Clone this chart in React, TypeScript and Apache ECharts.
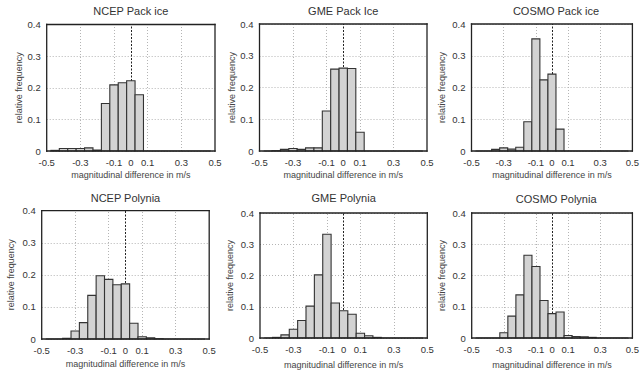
import React, { useEffect, useRef } from 'react';
import * as echarts from 'echarts';

// ---- data ----
const BIN_CENTERS = [-0.45, -0.4, -0.35, -0.3, -0.25, -0.2, -0.15, -0.1, -0.05, 0, 0.05, 0.1, 0.15, 0.2, 0.25, 0.3, 0.35, 0.4, 0.45];
const BIN_WIDTH = 0.05;

const NCEP_PACK = [0.002, 0.008, 0.008, 0.008, 0.01, 0.003, 0.15, 0.209, 0.216, 0.222, 0.178, 0, 0, 0, 0, 0, 0, 0, 0];
const GME_PACK = [0, 0.001, 0.005, 0.008, 0.005, 0.01, 0.01, 0.126, 0.258, 0.261, 0.26, 0.059, 0, 0, 0, 0, 0, 0, 0];
const COSMO_PACK = [0, 0, 0.005, 0.01, 0.006, 0.012, 0.092, 0.353, 0.224, 0.242, 0.069, 0, 0, 0, 0, 0, 0, 0, 0];
const NCEP_POLY = [0, 0, 0.002, 0.025, 0.051, 0.136, 0.197, 0.186, 0.169, 0.172, 0.049, 0.007, 0.004, 0.001, 0, 0, 0, 0, 0];
const GME_POLY = [0, 0.002, 0.01, 0.028, 0.056, 0.102, 0.202, 0.332, 0.112, 0.087, 0.076, 0.015, 0.007, 0.002, 0, 0, 0, 0, 0];
const COSMO_POLY = [0, 0, 0, 0.017, 0.07, 0.138, 0.265, 0.229, 0.12, 0.078, 0.083, 0.008, 0.005, 0.004, 0.002, 0, 0, 0, 0];

const SERIES_VALUES = [NCEP_PACK, GME_PACK, COSMO_PACK, NCEP_POLY, GME_POLY, COSMO_POLY];
const TITLES = ['NCEP Pack ice', 'GME Pack Ice', 'COSMO Pack ice', 'NCEP Polynia', 'GME Polynia', 'COSMO Polynia'];
const X_MIN = -0.5;
const X_MAX = 0.5;
const Y_MIN = 0;
const Y_MAX = 0.4;
const X_TICK_LABELS = [-0.5, -0.3, -0.1, 0, 0.1, 0.3, 0.5];
const X_GRID_LINES = [-0.3, -0.1, 0.1, 0.3];
const X_ZERO_LINE = [0];
const X_NAME = 'magnitudinal difference in m/s';
const Y_NAME = 'relative frequency';

// ---- layout (pixels) ----
const PANELS = [
  { left: 46.7, top: 24.5, width: 168.3, height: 126.5, titleY: 11.3, yGap: 21.5, xGap: 19.5 },
  { left: 259.5, top: 24, width: 167.5, height: 127, titleY: 11.3, yGap: 23.5, xGap: 19.5 },
  { left: 471.5, top: 24, width: 169, height: 127, titleY: 11, yGap: 25, xGap: 19.5 },
  { left: 41.7, top: 210.7, width: 167.5, height: 128.3, titleY: 197.5, yGap: 26.5, xGap: 20.5 },
  { left: 260, top: 213, width: 167.3, height: 125, titleY: 198.3, yGap: 25.5, xGap: 22 },
  { left: 471.7, top: 213, width: 169, height: 125, titleY: 199, yGap: 25, xGap: 22 },
];

const FONT = '"Liberation Sans", Arial, Helvetica, sans-serif';
const GRID_STYLE = { color: '#b4b4b4', type: [1, 2], width: 1 };
const ZERO_STYLE = { color: '#222', type: [2, 1.5], width: 1 };
const FRAME_W = 1.3;
const FRAME_COLOR = '#222';

function fmtX(v: number): string {
  for (const t of X_TICK_LABELS) {
    if (Math.abs(v - t) < 1e-6) return t === 0 ? '0' : t.toFixed(1);
  }
  return '';
}
function fmtY(v: number): string {
  if (Math.abs(v) < 1e-9) return '0';
  return (Math.round(v * 10) / 10).toFixed(1);
}

export default function App() {
  const ref = useRef<HTMLDivElement>(null);
  useEffect(() => {
    if (!ref.current) return;
    const chart = echarts.init(ref.current, undefined, { renderer: 'svg' });

    const grid = PANELS.map((p) => ({
      left: p.left,
      top: p.top,
      width: p.width,
      height: p.height,
      containLabel: false,
    }));

    const graphic = PANELS.map((p, i) => ({
      type: 'text',
      x: p.left + p.width / 2,
      y: p.titleY,
      silent: true,
      style: {
        text: TITLES[i],
        fontSize: 11,
        fontWeight: 'normal',
        fontFamily: FONT,
        fill: '#333',
        align: 'center',
        verticalAlign: 'middle',
      },
    }));

    const xAxis = PANELS.map((p, i) => ({
      type: 'value',
      gridIndex: i,
      position: 'bottom',
      min: X_MIN,
      max: X_MAX,
      interval: 0.1,
      name: X_NAME,
      nameLocation: 'middle',
      nameGap: p.xGap,
      nameTextStyle: { fontSize: 9, color: '#444', fontFamily: FONT },
      axisLine: { show: false },
      axisTick: { show: false },
      splitLine: { show: false },
      axisLabel: {
        formatter: fmtX,
        fontSize: 9.5,
        color: '#333',
        margin: 6.5,
        fontFamily: FONT,
        showMinLabel: true,
        showMaxLabel: true,
      },
    }));
    const yAxis = PANELS.map((p, i) => ({
      type: 'value',
      gridIndex: i,
      position: 'left',
      min: Y_MIN,
      max: Y_MAX,
      interval: 0.1,
      name: Y_NAME,
      nameLocation: 'middle',
      nameGap: p.yGap,
      nameTextStyle: { fontSize: 9, color: '#444', fontFamily: FONT },
      axisLine: { show: false },
      axisTick: { show: false },
      splitLine: { show: true, lineStyle: GRID_STYLE },
      axisLabel: { formatter: fmtY, fontSize: 9.5, color: '#333', margin: 6, fontFamily: FONT },
    }));

    const series: any[] = [];
    PANELS.forEach((_, i) => {
      series.push({
        type: 'line',
        xAxisIndex: i,
        yAxisIndex: i,
        data: [],
        z: 1,
        clip: false,
        silent: true,
        markLine: {
          silent: true,
          symbol: ['none', 'none'],
          label: { show: false },
          animation: false,
          data: [
            ...X_GRID_LINES.map((x) => ({ xAxis: x, lineStyle: GRID_STYLE })),
            ...X_ZERO_LINE.map((x) => ({ xAxis: x, lineStyle: ZERO_STYLE })),
          ],
        },
      });
      series.push({
        type: 'custom',
        xAxisIndex: i,
        yAxisIndex: i,
        z: 5,
        encode: { x: 0, y: 1 },
        clip: false,
        data: BIN_CENTERS.map((c, k) => [c, SERIES_VALUES[i][k]]),
        renderItem: (params: any, api: any) => {
          const c = api.value(0);
          const v = api.value(1);
          const p0 = api.coord([c - BIN_WIDTH / 2, v]);
          const p1 = api.coord([c + BIN_WIDTH / 2, 0]);
          const bar = {
            type: 'rect',
            shape: { x: p0[0], y: p0[1], width: p1[0] - p0[0], height: p1[1] - p0[1] },
            style: { fill: '#d3d3d3', stroke: '#333', lineWidth: 1.1 },
          };
          if (params.dataIndex !== 0) return bar;
          // plot frame, built from the axis extents as filled strips
          const tl = api.coord([X_MIN, Y_MAX]);
          const br = api.coord([X_MAX, Y_MIN]);
          const h = FRAME_W / 2;
          const fw = br[0] - tl[0] + FRAME_W;
          const fh = br[1] - tl[1] + FRAME_W;
          const strips = [
            { x: tl[0] - h, y: tl[1] - h, width: fw, height: FRAME_W },
            { x: tl[0] - h, y: br[1] - h, width: fw, height: FRAME_W },
            { x: tl[0] - h, y: tl[1] - h, width: FRAME_W, height: fh },
            { x: br[0] - h, y: tl[1] - h, width: FRAME_W, height: fh },
          ];
          return {
            type: 'group',
            children: [
              bar,
              ...strips.map((s) => ({
                type: 'rect',
                z2: 100,
                shape: s,
                style: { fill: FRAME_COLOR },
              })),
            ],
          };
        },
      });
    });

    chart.setOption({
      animation: false,
      backgroundColor: '#fff',
      textStyle: { fontFamily: FONT },
      graphic,
      grid,
      xAxis,
      yAxis,
      series,
    });
    return () => chart.dispose();
  }, []);

  return (
    <div
      ref={ref}
      style={{ position: 'absolute', left: 0, top: 0, width: 642, height: 372, background: '#fff' }}
    />
  );
}
